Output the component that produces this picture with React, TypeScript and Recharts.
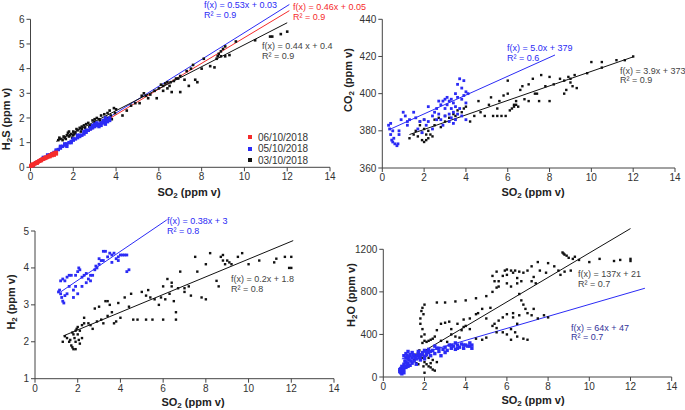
import React from 'react';
import { ScatterChart, Scatter, XAxis, YAxis, ReferenceLine } from 'recharts';

type P = [number, number];

// ---------- Panel 1: H2S vs SO2 ----------
const h2sRed: P[] = [
  [0.02, 0.05], [0.05, 0.08], [0.08, 0.1], [0.1, 0.12], [0.15, 0.12], [0.2, 0.15], [0.25, 0.18],
  [0.3, 0.2], [0.35, 0.22], [0.4, 0.25], [0.45, 0.27], [0.5, 0.3], [0.55, 0.33], [0.6, 0.34],
  [0.65, 0.36], [0.7, 0.38], [0.75, 0.4], [0.8, 0.42], [0.85, 0.45], [0.9, 0.47], [0.95, 0.5],
  [1.0, 0.52], [1.05, 0.55], [1.1, 0.55], [1.15, 0.58], [1.2, 0.6], [1.0, 0.48], [0.9, 0.44],
  [0.7, 0.4], [0.5, 0.28], [1.2, 0.55], [1.1, 0.5], [0.3, 0.17], [0.12, 0.08],
];
const h2sBlue: P[] = [
  [0.05, 0.05], [0.1, 0.1], [0.2, 0.15], [0.3, 0.2], [0.4, 0.25], [0.5, 0.3], [0.6, 0.35],
  [0.7, 0.4], [0.8, 0.45], [0.9, 0.5], [1.0, 0.55], [1.1, 0.6], [1.2, 0.65], [1.3, 0.72],
  [1.4, 0.78], [1.5, 0.85], [1.6, 0.9], [1.7, 0.95], [1.8, 1.0], [1.9, 1.05], [2.0, 1.1],
  [2.1, 1.15], [2.2, 1.2], [2.3, 1.25], [2.4, 1.3], [2.5, 1.35], [2.6, 1.42], [2.7, 1.5],
  [2.8, 1.55], [2.9, 1.6], [3.0, 1.65], [3.1, 1.7], [3.2, 1.75], [3.3, 1.8], [3.4, 1.9],
  [3.5, 1.85], [3.6, 1.95], [3.7, 2.0], [2.5, 1.45], [3.0, 1.75], [3.3, 1.7], [3.5, 2.0],
  [1.7, 0.85], [1.6, 0.95], [2.2, 1.3], [2.8, 1.6], [3.2, 1.65], [3.6, 1.85], [0.6, 0.4],
  [1.4, 0.85], [2.0, 1.15], [2.6, 1.5], [3.4, 1.8], [1.2, 0.7], [0.8, 0.5], [2.9, 1.7],
  [3.1, 1.8], [3.7, 1.9], [3.5, 1.75], [2.3, 1.3], [1.9, 1.0],
];
const h2sBlack: P[] = [
  [1.3, 1.1], [1.4, 1.15], [1.5, 1.1], [1.6, 1.2], [1.7, 1.3], [1.75, 1.4], [1.8, 1.25],
  [1.9, 1.35], [2.0, 1.45], [2.1, 1.4], [2.2, 1.5], [2.3, 1.6], [2.4, 1.55], [2.5, 1.7],
  [2.6, 1.75], [2.7, 1.8], [2.8, 1.7], [2.9, 1.9], [3.0, 1.85], [3.1, 2.0], [3.2, 1.95],
  [3.3, 2.1], [3.4, 1.9], [3.5, 2.0], [3.6, 2.2], [3.7, 2.3], [3.8, 1.95], [3.9, 2.4],
  [4.0, 2.35], [4.3, 2.1], [4.5, 2.3], [4.7, 2.5], [4.9, 2.6], [5.1, 2.6], [5.2, 2.9],
  [5.3, 3.0], [5.5, 2.8], [5.6, 2.95], [5.8, 3.1], [5.9, 2.8], [6.0, 3.2], [6.1, 3.35],
  [6.2, 3.1], [6.3, 3.4], [6.4, 3.2], [6.5, 3.3], [6.6, 3.05], [6.7, 3.5], [6.8, 3.6],
  [7.0, 3.7], [7.0, 3.05], [7.2, 3.55], [7.3, 3.9], [7.4, 3.3], [7.5, 4.0], [7.6, 4.15],
  [7.7, 3.55], [7.8, 3.45], [8.0, 4.0], [8.1, 4.4], [8.4, 4.1], [8.6, 4.05], [8.7, 4.4],
  [8.8, 4.6], [8.9, 4.5], [9.0, 4.8], [9.1, 4.9], [9.1, 4.5], [9.3, 4.55], [9.6, 5.1],
  [10.5, 5.15], [11.2, 5.3], [11.3, 5.3], [11.7, 5.4], [12.0, 5.5], [6.4, 3.45], [6.9, 3.6],
  [5.4, 2.9], [2.0, 1.3], [1.8, 1.45], [2.4, 1.65], [3.0, 1.95], [3.6, 2.0],
  [1.35, 1.2], [1.55, 1.25], [1.65, 1.15], [1.85, 1.3], [1.95, 1.2], [2.05, 1.35],
  [2.15, 1.55], [2.35, 1.45], [2.55, 1.6], [2.75, 1.65], [3.25, 1.9], [3.45, 2.15],
  [3.75, 2.1], [3.95, 2.2], [6.2, 3.3], [6.55, 3.45], [8.9, 4.7], [8.75, 4.5],
];
const h2sFitBlue: P[] = [[0, 0.03], [12.1, 6.6]];
const h2sFitRed: P[] = [[0, 0.05], [12.1, 6.35]];
const h2sFitBlack: P[] = [[1.2, 1.05], [12.0, 5.86]];

// ---------- Panel 2: CO2 vs SO2 ----------
const co2Blue: P[] = [
  [0.3, 383], [0.35, 381], [0.4, 378], [0.45, 375], [0.5, 374], [0.55, 376], [0.6, 373],
  [0.7, 372], [0.75, 373], [0.8, 378], [0.8, 380], [0.5, 380], [0.4, 384], [0.9, 386],
  [1.0, 390], [1.1, 388], [1.2, 385], [1.3, 386], [1.5, 390], [1.6, 387], [1.8, 385],
  [2.0, 386], [2.1, 383], [2.2, 385], [2.2, 393], [2.4, 388], [2.5, 390], [2.6, 392],
  [2.7, 389], [2.8, 394], [2.8, 386], [2.9, 383], [2.9, 396], [3.0, 397], [3.0, 392],
  [3.1, 398], [3.2, 396], [3.2, 389], [3.3, 397], [3.3, 387], [3.4, 395], [3.4, 390],
  [3.5, 400], [3.5, 386], [3.6, 398], [3.6, 405], [3.7, 408], [3.7, 392], [3.8, 403],
  [3.8, 388], [3.9, 407], [3.9, 399], [4.0, 401], [4.0, 395], [4.1, 400], [3.5, 393],
  [3.0, 388], [3.2, 385], [3.4, 384], [3.6, 389], [3.8, 397], [4.0, 386], [2.6, 386],
  [2.4, 381], [1.7, 381], [1.9, 379], [1.2, 383], [3.1, 394], [3.3, 392], [2.7, 396],
];
const co2Black: P[] = [
  [1.3, 376], [1.5, 378], [1.6, 380], [1.7, 377], [1.8, 383], [1.9, 375], [1.9, 379],
  [2.0, 381], [2.0, 374], [2.1, 378], [2.2, 376], [2.2, 380], [2.3, 378], [2.4, 377],
  [1.8, 385], [2.0, 386], [2.5, 383], [2.5, 386], [2.7, 387], [2.8, 382], [3.0, 385],
  [3.0, 388], [3.2, 387], [3.4, 389], [3.5, 388], [3.6, 391], [3.8, 390], [3.9, 392],
  [4.0, 393], [4.2, 385], [4.4, 388], [4.6, 396], [4.7, 390], [4.9, 388], [5.1, 394],
  [5.2, 398], [5.3, 388], [5.5, 392], [5.6, 396], [5.8, 399], [5.9, 388], [6.0, 400],
  [6.0, 407], [6.2, 392], [6.3, 394], [6.4, 396], [6.5, 393], [6.6, 402], [6.7, 404],
  [6.8, 397], [7.0, 396], [7.0, 405], [7.2, 408], [7.4, 400], [7.5, 396], [7.6, 410],
  [7.8, 404], [8.0, 396], [8.0, 409], [8.2, 405], [8.5, 408], [8.7, 407], [8.8, 402],
  [8.9, 409], [9.0, 406], [9.1, 404], [9.2, 410], [9.3, 403], [9.8, 411], [10.0, 417],
  [10.5, 414], [10.5, 417], [11.2, 418], [11.6, 418], [12.0, 420], [7.3, 400], [6.3, 393],
  [5.5, 388], [8.7, 400], [9.0, 408], [6.4, 394], [6.1, 391], [5.7, 388], [2.1, 375],
];
const co2FitBlue: P[] = [[0.4, 381], [8.26, 420.8]];
const co2FitBlack: P[] = [[1.3, 378], [12.0, 419.8]];

// ---------- Panel 3: H2 vs SO2 ----------
const h2Blue: P[] = [
  [1.1, 3.35], [1.15, 3.4], [1.2, 3.3], [1.25, 3.2], [1.3, 3.1], [1.35, 3.05], [1.2, 3.65],
  [1.3, 3.7], [1.4, 3.65], [1.5, 3.3], [1.6, 3.5], [1.7, 3.8], [1.8, 3.4], [1.9, 3.5],
  [2.0, 3.9], [2.05, 4.0], [2.1, 3.95], [2.2, 3.75], [2.2, 3.5], [2.3, 3.8], [2.4, 3.6],
  [2.5, 3.7], [2.6, 3.65], [2.7, 3.8], [2.8, 3.95], [2.85, 4.05], [2.9, 4.0], [3.0, 4.1],
  [3.1, 4.2], [3.2, 4.45], [3.3, 4.45], [3.2, 4.2], [3.4, 4.3], [3.5, 4.4], [3.6, 4.35],
  [3.7, 4.4], [3.8, 4.25], [3.9, 4.3], [4.0, 4.35], [4.1, 4.35], [4.2, 4.35], [4.3, 4.35],
  [4.4, 3.95], [4.3, 3.9], [3.9, 4.2], [3.6, 4.15], [1.6, 3.8], [1.5, 3.75], [2.0, 3.3],
  [1.8, 3.2], [2.4, 3.85], [1.4, 3.25], [2.6, 3.8], [3.0, 4.25], [1.9, 3.8],
];
const h2Black: P[] = [
  [1.3, 2.0], [1.4, 2.15], [1.5, 2.1], [1.6, 2.0], [1.7, 1.9], [1.75, 1.85], [1.8, 1.8],
  [1.8, 2.2], [1.9, 2.3], [1.9, 2.0], [2.0, 2.2], [2.0, 2.4], [2.1, 1.95], [2.1, 2.3],
  [2.2, 2.45], [2.3, 2.65], [2.3, 2.5], [2.5, 2.5], [2.6, 2.45], [2.7, 2.35], [2.8, 2.9],
  [2.9, 2.55], [3.0, 2.95], [3.1, 2.6], [3.2, 2.5], [3.3, 3.1], [3.4, 2.7], [3.5, 3.0],
  [3.6, 2.8], [3.7, 2.5], [3.8, 2.55], [3.9, 3.05], [4.0, 2.65], [4.2, 3.2], [4.4, 2.95],
  [4.5, 3.3], [4.8, 2.6], [5.0, 3.35], [5.2, 3.25], [5.3, 3.4], [5.4, 3.2], [5.5, 2.6],
  [5.6, 3.15], [5.8, 3.0], [6.0, 3.5], [6.1, 3.15], [6.2, 3.7], [6.3, 3.3], [6.4, 3.5],
  [6.5, 3.1], [6.6, 2.8], [6.6, 2.6], [6.7, 3.45], [6.8, 3.9], [7.0, 3.35], [7.2, 3.5],
  [7.3, 3.25], [7.5, 4.3], [7.6, 3.9], [7.8, 3.2], [8.0, 3.15], [8.0, 4.1], [8.2, 4.4],
  [8.5, 3.65], [8.6, 3.5], [8.7, 4.3], [8.8, 4.35], [8.9, 4.1], [9.0, 4.2], [9.1, 4.15],
  [9.2, 4.1], [9.5, 4.3], [9.7, 4.4], [10.0, 4.1], [10.5, 4.2], [11.2, 4.15], [11.3, 4.25],
  [11.7, 4.3], [12.0, 4.0], [11.9, 4.0], [12.0, 4.3], [6.0, 2.6], [4.6, 2.6], [5.2, 2.6],
  [6.4, 3.6], [7.0, 3.45], [5.9, 3.2], [2.2, 2.1], [1.9, 1.8], [3.4, 3.1], [8.8, 4.2],
  [1.85, 2.1], [1.95, 2.35], [2.05, 2.05], [1.65, 2.05], [1.75, 2.25],
];
const h2FitBlue: P[] = [[1.2, 3.35], [6.17, 5.3]];
const h2FitBlack: P[] = [[1.33, 2.16], [12.09, 4.74]];

// ---------- Panel 4: H2O vs SO2 ----------
const h2oBlue: P[] = [
  [0.8, 50], [0.85, 80], [0.9, 30], [0.9, 100], [0.95, 60], [1.0, 120], [1.0, 70], [1.05, 150],
  [1.1, 180], [1.1, 90], [1.15, 200], [1.2, 130], [1.2, 240], [1.25, 160], [1.3, 110],
  [1.3, 210], [1.4, 180], [1.4, 130], [1.5, 150], [1.5, 200], [1.6, 170], [1.6, 120],
  [1.7, 220], [1.7, 240], [1.8, 160], [1.8, 200], [1.9, 230], [2.0, 190], [2.0, 250],
  [2.1, 210], [2.2, 260], [2.2, 230], [2.3, 200], [2.4, 250], [2.5, 220], [2.6, 270],
  [2.7, 240], [2.8, 200], [2.9, 260], [3.0, 280], [3.0, 230], [3.1, 250], [3.2, 300],
  [3.3, 270], [3.4, 290], [3.5, 260], [3.6, 300], [3.7, 280], [3.8, 310], [3.9, 270],
  [4.0, 300], [4.1, 290], [4.2, 320], [4.3, 300], [4.3, 270], [1.0, 200], [1.2, 170],
  [1.4, 230], [2.5, 290], [2.0, 170], [3.5, 320], [0.85, 40], [0.95, 90], [1.1, 140],
  [0.8, 70], [0.9, 60], [1.0, 40], [1.05, 100], [1.15, 120], [1.25, 190], [1.35, 150],
  [1.45, 210], [1.55, 180], [1.65, 200], [1.75, 180], [1.2, 100], [1.1, 220], [2.3, 240],
  [2.7, 270], [3.3, 300], [3.6, 270], [3.9, 300], [4.2, 290], [2.1, 240], [1.9, 210],
];
const h2oBlack: P[] = [
  [1.5, 160], [1.6, 130], [1.7, 120], [1.8, 200], [1.9, 180], [2.0, 140], [2.1, 120],
  [2.2, 100], [2.3, 90], [2.4, 70], [2.5, 60], [2.0, 40], [2.2, 180], [2.4, 160], [2.6, 140],
  [1.9, 230], [1.8, 550], [1.85, 620], [1.9, 650], [2.0, 680], [1.8, 500], [1.9, 450],
  [2.0, 400], [2.0, 340], [1.9, 320], [2.1, 330], [2.2, 340], [2.3, 350], [2.4, 360],
  [2.5, 380], [2.6, 440], [2.8, 500], [3.0, 510], [3.2, 520], [2.6, 700], [3.0, 700],
  [3.5, 710], [4.0, 720], [4.5, 740], [5.0, 760], [5.3, 800], [5.5, 840], [5.6, 900],
  [5.8, 950], [5.9, 1000], [6.0, 1010], [6.2, 1000], [6.3, 980], [6.5, 930], [6.4, 1000],
  [6.6, 990], [6.8, 980], [7.0, 1000], [7.2, 1040], [7.5, 1080], [8.0, 1070], [8.3, 1040],
  [8.5, 1000], [8.7, 1170], [8.8, 1150], [9.0, 1120], [9.2, 1110], [9.5, 1100], [10.0, 1080],
  [10.5, 1110], [11.2, 1090], [11.5, 1100], [12.0, 1090], [12.0, 1110], [6.7, 900],
  [6.5, 880], [6.0, 880], [5.6, 850], [5.4, 900], [5.3, 950], [5.5, 990], [7.3, 940],
  [7.4, 880], [6.6, 780], [6.7, 720], [6.8, 680], [6.9, 640], [7.0, 600], [7.2, 580],
  [7.5, 550], [7.8, 580], [8.0, 560], [7.3, 640], [6.6, 580], [6.3, 560], [6.0, 590],
  [5.8, 560], [5.6, 530], [5.4, 500], [5.5, 460], [5.8, 420], [6.0, 400], [6.2, 450],
  [6.4, 420], [6.5, 380], [6.2, 350], [7.0, 350], [6.8, 360], [6.5, 500], [6.3, 600],
  [5.2, 650], [4.8, 640], [4.5, 590], [4.2, 550], [3.9, 540], [3.6, 500], [3.3, 450],
  [3.5, 380], [3.7, 370], [3.8, 440], [4.0, 480], [4.5, 360], [5.0, 370], [5.5, 420],
  [4.8, 350], [2.8, 340], [3.1, 330], [3.3, 400], [3.9, 470], [4.2, 450], [4.6, 600],
  [5.0, 550], [5.3, 480], [6.0, 960], [6.2, 850], [9.3, 1130], [8.6, 960], [8.8, 990],
  [9.1, 1000], [7.9, 980], [7.6, 1000], [7.2, 900], [1.6, 210], [1.75, 250], [2.05, 200],
  [2.3, 130], [1.95, 100], [1.85, 380], [1.95, 590], [8.75, 1160], [8.9, 1140],
];
const h2oFitBlack: P[] = [[1.9, 235], [12.0, 1395]];
const h2oFitBlue: P[] = [[0.9, 170], [12.7, 834]];

const xTicks = [0, 2, 4, 6, 8, 10, 12, 14];
const h2sTicks = [0, 1, 2, 3, 4, 5, 6];
const co2Ticks = [360, 380, 400, 420, 440];
const h2Ticks = [1, 2, 3, 4, 5];
const h2oTicks = [0, 400, 800, 1200];

const legendLabels = ['06/10/2018', '05/10/2018', '03/10/2018'];

const BLUE = '#2b2bf5';
const RED = '#f52b2b';
const BLACK = '#111';
const FONT = '"Liberation Sans", Arial, sans-serif';

const toObj = (a: P[]) => a.map(([x, y]) => ({ x, y }));

const sq = (size: number, color: string) => (props: any) => {
  const { cx, cy } = props;
  if (cx == null || cy == null) return <g />;
  return <rect x={cx - size / 2} y={cy - size / 2} width={size} height={size} fill={color} />;
};

type Series = { data: P[]; color: string; size: number; name: string };
type Fit = { seg: P[]; color: string };

function Panel(props: {
  left: number; top: number; width: number; height: number;
  yAxisW: number; xAxisH: number; mTop: number; mRight: number;
  yDomain: [number, number]; yTicks: number[];
  series: Series[]; fits: Fit[];
}) {
  const { left, top, width, height, yAxisW, xAxisH, mTop, mRight, yDomain, yTicks, series, fits } = props;
  const tick = { fontSize: 10, fill: '#333', fontFamily: FONT };
  return (
    <div style={{ position: 'absolute', left, top }}>
      <ScatterChart width={width} height={height} margin={{ top: mTop, right: mRight, left: 0, bottom: 0 }}>
        <XAxis type="number" dataKey="x" domain={[0, 14]} ticks={xTicks} height={xAxisH}
          tick={tick} tickSize={4} stroke="#444" interval={0} />
        <YAxis type="number" dataKey="y" domain={yDomain} ticks={yTicks} width={yAxisW}
          tick={tick} tickSize={4} stroke="#444" interval={0} />
        {series.map((s) => (
          <Scatter key={s.name} name={s.name} data={toObj(s.data)} shape={sq(s.size, s.color)}
            isAnimationActive={false} />
        ))}
        {fits.map((f, i) => (
          <ReferenceLine key={i} segment={toObj(f.seg) as any} stroke={f.color} strokeWidth={1}
            ifOverflow="visible" />
        ))}
      </ScatterChart>
    </div>
  );
}

const txt = (left: number, top: number, color: string, s: React.ReactNode, fs = 9) => (
  <div style={{ position: 'absolute', left, top, color, fontSize: fs, lineHeight: '10px',
    fontFamily: FONT, whiteSpace: 'nowrap' }}>{s}</div>
);

const XTitle = ({ cx, cy }: { cx: number; cy: number }) => (
  <div style={{ position: 'absolute', left: cx - 40, top: cy - 7, width: 80, textAlign: 'center',
    fontSize: 11, fontWeight: 'bold', fontFamily: FONT, color: '#222', lineHeight: '14px', whiteSpace: 'nowrap' }}>
    SO<sub style={{ fontSize: 8, verticalAlign: '-2px' }}>2</sub> (ppm v)
  </div>
);

const YTitle = ({ cx, cy, children }: { cx: number; cy: number; children: React.ReactNode }) => (
  <div style={{ position: 'absolute', left: cx - 45, top: cy - 7, width: 90, textAlign: 'center',
    transform: 'rotate(-90deg)', fontSize: 11, fontWeight: 'bold', fontFamily: FONT, color: '#222',
    lineHeight: '14px', whiteSpace: 'nowrap' }}>
    {children}
  </div>
);

const Sub = ({ c }: { c: string }) => <sub style={{ fontSize: 8, verticalAlign: '-2px' }}>{c}</sub>;

export default function App() {
  return (
    <div style={{ position: 'absolute', left: 0, top: 0, width: 685, height: 410, background: '#fff',
      fontFamily: FONT, overflow: 'hidden' }}>
      <Panel left={0} top={0} width={340} height={205} yAxisW={30.5} xAxisH={37.7} mTop={19.3} mRight={10}
        yDomain={[0, 6]} yTicks={h2sTicks}
        series={[
          { data: h2sBlack, color: BLACK, size: 2.6, name: 'k' },
          { data: h2sBlue, color: BLUE, size: 3.4, name: 'b' },
          { data: h2sRed, color: RED, size: 3.8, name: 'r' },
        ]}
        fits={[
          { seg: h2sFitBlue, color: BLUE },
          { seg: h2sFitRed, color: RED },
          { seg: h2sFitBlack, color: BLACK },
        ]} />
      <Panel left={340} top={0} width={345} height={205} yAxisW={42.3} xAxisH={37} mTop={19.3} mRight={10}
        yDomain={[360, 440]} yTicks={co2Ticks}
        series={[
          { data: co2Black, color: BLACK, size: 2.4, name: 'k' },
          { data: co2Blue, color: BLUE, size: 2.8, name: 'b' },
        ]}
        fits={[
          { seg: co2FitBlue, color: BLUE },
          { seg: co2FitBlack, color: BLACK },
        ]} />
      <Panel left={0} top={205} width={340} height={205} yAxisW={35} xAxisH={31.3} mTop={26} mRight={6}
        yDomain={[1, 5]} yTicks={h2Ticks}
        series={[
          { data: h2Black, color: BLACK, size: 2.4, name: 'k' },
          { data: h2Blue, color: BLUE, size: 2.8, name: 'b' },
        ]}
        fits={[
          { seg: h2FitBlue, color: BLUE },
          { seg: h2FitBlack, color: BLACK },
        ]} />
      <Panel left={340} top={205} width={345} height={205} yAxisW={43.3} xAxisH={33} mTop={44.3} mRight={13.3}
        yDomain={[0, 1200]} yTicks={h2oTicks}
        series={[
          { data: h2oBlack, color: BLACK, size: 2.4, name: 'k' },
          { data: h2oBlue, color: BLUE, size: 3.4, name: 'b' },
        ]}
        fits={[
          { seg: h2oFitBlack, color: BLACK },
          { seg: h2oFitBlue, color: BLUE },
        ]} />

      {/* axis titles */}
      <XTitle cx={189} cy={192} />
      <XTitle cx={533} cy={192} />
      <XTitle cx={193} cy={402} />
      <XTitle cx={533} cy={400} />
      <YTitle cx={8} cy={117}>H<Sub c="2" />S (ppm v)</YTitle>
      <YTitle cx={350} cy={78}>CO<Sub c="2" /> (ppm v)</YTitle>
      <YTitle cx={13} cy={300}>H<Sub c="2" /> (ppm v)</YTitle>
      <YTitle cx={353} cy={293}>H<Sub c="2" />O (ppm v)</YTitle>

      {/* regression annotations */}
      {txt(204, 0, BLUE, 'f(x) = 0.53x + 0.03')}
      {txt(204, 10, BLUE, 'R² = 0.9')}
      {txt(293, 2, RED, 'f(x) = 0.46x + 0.05')}
      {txt(293, 12, RED, 'R² = 0.9')}
      {txt(262, 41, '#444', 'f(x) = 0.44 x + 0.4')}
      {txt(262, 51, '#444', 'R² = 0.9')}
      {txt(507, 43, BLUE, 'f(x) = 5.0x + 379')}
      {txt(507, 53, BLUE, 'R² = 0.6')}
      {txt(620, 66, '#444', 'f(x) = 3.9x + 373')}
      {txt(620, 75, '#444', 'R² = 0.9')}
      {txt(167, 216, BLUE, 'f(x) = 0.38x + 3')}
      {txt(167, 226, BLUE, 'R² = 0.8')}
      {txt(231, 274, '#444', 'f(x) = 0.2x + 1.8')}
      {txt(231, 284, '#444', 'R² = 0.8')}
      {txt(578, 269, '#444', 'f(x) = 137x + 21')}
      {txt(578, 279, '#444', 'R² = 0.7')}
      {txt(571, 323, '#333399', 'f(x) = 64x + 47')}
      {txt(571, 332, '#333399', 'R² = 0.7')}

      {/* legend */}
      {[RED, BLUE, BLACK].map((c, i) => (
        <div key={i} style={{ position: 'absolute', left: 248, top: 131.5 + i * 11.7, height: 11,
          display: 'flex', alignItems: 'center', fontSize: 10, fontFamily: FONT, color: '#333' }}>
          <span style={{ display: 'inline-block', width: 4, height: 4, background: c, marginRight: 6 }} />
          {legendLabels[i]}
        </div>
      ))}
    </div>
  );
}
